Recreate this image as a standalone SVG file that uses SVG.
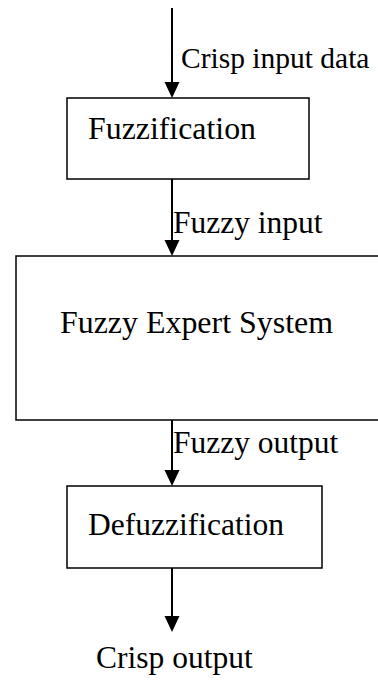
<svg xmlns="http://www.w3.org/2000/svg" width="378" height="682" viewBox="0 0 378 682">
  <style>
    .box { fill: #ffffff; stroke: #000000; stroke-width: 1.5; }
    .edge { stroke: #000000; stroke-width: 2; fill: none; }
    .head { fill: #000000; }
    text { font-family: "Liberation Serif", "Times New Roman", serif; font-size: 31.5px; fill: #000000; }
  </style>
  <rect width="378" height="682" fill="#ffffff"/>

  <g id="fuzzification">
    <rect class="box" x="67" y="98" width="242" height="81"/>
    <text x="88" y="139" textLength="168" lengthAdjust="spacingAndGlyphs">Fuzzification</text>
  </g>

  <g id="expert-system">
    <rect class="box" x="16" y="256" width="370" height="164"/>
    <text x="60" y="333" textLength="273" lengthAdjust="spacingAndGlyphs">Fuzzy Expert System</text>
  </g>

  <g id="defuzzification">
    <rect class="box" x="67" y="486" width="255" height="82"/>
    <text x="88" y="535">Defuzzification</text>
  </g>

  <g id="connectors">
    <line class="edge" x1="172" y1="8" x2="172" y2="84"/>
    <polygon class="head" points="164.5,82 179.5,82 172,98"/>
    <text x="181" y="68" style="font-size:29.5px">Crisp input data</text>

    <line class="edge" x1="172" y1="179" x2="172" y2="242"/>
    <polygon class="head" points="164.5,240 179.5,240 172,256"/>
    <text x="173" y="233">Fuzzy input</text>

    <line class="edge" x1="172" y1="420" x2="172" y2="472"/>
    <polygon class="head" points="164.5,470 179.5,470 172,486"/>
    <text x="173" y="453">Fuzzy output</text>

    <line class="edge" x1="172" y1="568" x2="172" y2="618"/>
    <polygon class="head" points="164.5,616 179.5,616 172,632"/>
    <text x="96" y="668">Crisp output</text>
  </g>
</svg>
